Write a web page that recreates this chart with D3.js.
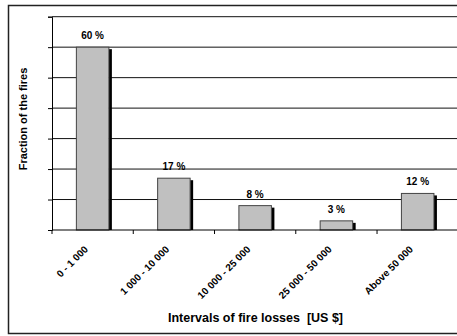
<!DOCTYPE html>
<html>
<head>
<meta charset="utf-8">
<script src="https://cdn.jsdelivr.net/npm/d3@7"></script>
<style>
  html, body { margin: 0; padding: 0; background: #fff; }
  svg { display: block; font-family: "Liberation Sans", Arial, sans-serif; }
</style>
</head>
<body>
<svg id="chart" width="457" height="336"></svg>
<script>
// Fire loss intervals and the share of fires in each
const categories = ["0 - 1 000", "1 000 - 10 000", "10 000 - 25 000", "25 000 - 50 000", "Above 50 000"];
const fractions = [60, 17, 8, 3, 12];
const valueLabels = ["60 %", "17 %", "8 %", "3 %", "12 %"];
const yTicks = [0, 10, 20, 30, 40, 50, 60, 70];

const svg = d3.select("#chart");

// Outer frame
svg.append("rect")
  .attr("x", 8.5).attr("y", 5.5)
  .attr("width", 470).attr("height", 328)
  .attr("fill", "none").attr("stroke", "#222").attr("stroke-width", 1.5);

const plot = { left: 52, right: 458.3, top: 16.7, bottom: 230 };

const x = d3.scaleBand()
  .domain(categories)
  .range([plot.left, plot.right])
  .paddingInner(0.6)
  .paddingOuter(0.3);

const y = d3.scaleLinear()
  .domain([0, 70])
  .range([plot.bottom, plot.top]);

// Horizontal gridlines
svg.append("g")
  .selectAll("line")
  .data(yTicks.filter(d => d > 0))
  .join("line")
  .attr("x1", plot.left).attr("x2", plot.right)
  .attr("y1", d => y(d)).attr("y2", d => y(d))
  .attr("stroke", "#111").attr("stroke-width", 1);

// Y axis (ticks only, no labels)
const yAxis = svg.append("g")
  .attr("transform", `translate(${plot.left},0)`)
  .call(d3.axisLeft(y).tickValues(yTicks).tickSize(4).tickFormat(""));
yAxis.select(".domain").attr("stroke", "#000");
yAxis.selectAll(".tick line").attr("stroke", "#000");

// Bars with a dark drop shadow on the right side
const bars = svg.append("g");
bars.selectAll("rect.shadow")
  .data(categories)
  .join("rect")
  .attr("class", "shadow")
  .attr("x", d => x(d) + x.bandwidth())
  .attr("y", (d, i) => y(fractions[i]) + 2)
  .attr("width", 3)
  .attr("height", (d, i) => plot.bottom - y(fractions[i]) - 2)
  .attr("fill", "#000");

bars.selectAll("rect.bar")
  .data(categories)
  .join("rect")
  .attr("class", "bar")
  .attr("x", d => x(d))
  .attr("y", (d, i) => y(fractions[i]))
  .attr("width", x.bandwidth())
  .attr("height", (d, i) => plot.bottom - y(fractions[i]))
  .attr("fill", "#c0c0c0")
  .attr("stroke", "#444").attr("stroke-width", 1);

// Value labels above bars
svg.append("g")
  .selectAll("text")
  .data(categories)
  .join("text")
  .attr("x", d => x(d) + x.bandwidth() / 2)
  .attr("y", (d, i) => y(fractions[i]) - 8)
  .attr("text-anchor", "middle")
  .attr("font-size", 10).attr("font-weight", "bold")
  .attr("fill", "#000")
  .text((d, i) => valueLabels[i]);

// X axis with category boundary ticks
const xAxisG = svg.append("g")
  .attr("transform", `translate(0,${plot.bottom})`);
xAxisG.append("line")
  .attr("x1", plot.left).attr("x2", plot.right)
  .attr("y1", 0).attr("y2", 0)
  .attr("stroke", "#000");
const boundaries = categories.map(d => x(d) - x.step() * 0.3).concat([plot.right]);
xAxisG.selectAll("line.tick")
  .data(boundaries)
  .join("line")
  .attr("class", "tick")
  .attr("x1", d => d).attr("x2", d => d)
  .attr("y1", 0).attr("y2", 4)
  .attr("stroke", "#000");

// Rotated category labels
svg.append("g")
  .selectAll("text")
  .data(categories)
  .join("text")
  .attr("transform", d => `translate(${x(d) + x.bandwidth() / 2 - 4},${plot.bottom + 20}) rotate(-45)`)
  .attr("text-anchor", "end")
  .attr("font-size", 10).attr("font-weight", "bold")
  .attr("fill", "#000")
  .text(d => d);

// Axis titles
svg.append("text")
  .attr("x", 255.5).attr("y", 321.5)
  .attr("text-anchor", "middle")
  .attr("font-size", 12.5).attr("font-weight", "bold")
  .attr("xml:space", "preserve")
  .style("white-space", "pre")
  .text("Intervals of fire losses  [US $]");

svg.append("text")
  .attr("transform", "translate(26.5,119) rotate(-90)")
  .attr("text-anchor", "middle")
  .attr("font-size", 11).attr("font-weight", "bold")
  .text("Fraction of the fires");
</script>
</body>
</html>
